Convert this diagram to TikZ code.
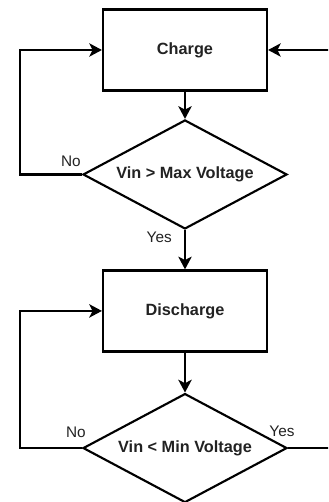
\documentclass[tikz,border=0pt]{standalone}
\usepackage{fontspec}
\setmainfont{Liberation Sans}
\usetikzlibrary{arrows.meta, positioning, shapes.geometric}
\definecolor{lineDark}{HTML}{000000}
\definecolor{textDark}{HTML}{222222}
\tikzset{
  flow/.style={-{Stealth[length=9.5pt, width=10pt, inset=2.5pt]}, lineDark, line width=1.6pt},
  procBox/.style={rectangle, draw=lineDark, line width=1.6pt, fill=white,
                  minimum width=123pt, minimum height=60.75pt, inner sep=0pt,
                  align=center, text=textDark, font=\bfseries\fontsize{12.2}{14}\selectfont},
  decBox/.style={diamond, draw=lineDark, line width=1.6pt, fill=white, aspect=1.9,
                 minimum width=153pt, minimum height=81.75pt, inner sep=0pt,
                 align=center, text=textDark, font=\bfseries\fontsize{12.2}{14}\selectfont},
  lbl/.style={inner sep=0pt, text=textDark, font=\fontsize{11.5}{13}\selectfont},
}
\begin{document}
\begin{tikzpicture}
    \useasboundingbox (-138.75pt,37.5pt) rectangle (107.25pt,-339pt);
    \clip (-138.75pt,37.5pt) rectangle (107.25pt,-339pt);
    \node[procBox]                            (charge)    {Charge};
    \node[decBox, below=20.5pt of charge]     (maxV)      {Vin > Max Voltage};
    \node[procBox, below=29.5pt of maxV]      (discharge) {Discharge};
    \node[decBox, below=30pt of discharge]    (minV)      {Vin < Min Voltage};
    % branch labels
    \node[lbl, above left=6pt and 0.75pt of maxV.west]   (maxNo)  {No};
    \node[lbl, below left=1pt and 9.75pt of maxV.south]  (maxYes) {Yes};
    \node[lbl, above left=7.5pt and -3pt of minV.west]   (minNo)  {No};
    \node[lbl, above left=8.5pt and -5pt of minV.east]   (minYes) {Yes};
    % connectors
    \draw[flow] (charge) -- (maxV);
    \draw[flow] (maxV) -- (discharge);
    \draw[flow] (discharge) -- (minV);
    \draw[flow] (maxV.west) -- ++(-46.5pt,0) |- (charge.west);
    \draw[flow] (minV.west) -- ++(-46.5pt,0) |- (discharge.west);
    \draw[flow] (minV.east) -- ++(60pt,0) |- (charge.east);
  \end{tikzpicture}
\end{document}
